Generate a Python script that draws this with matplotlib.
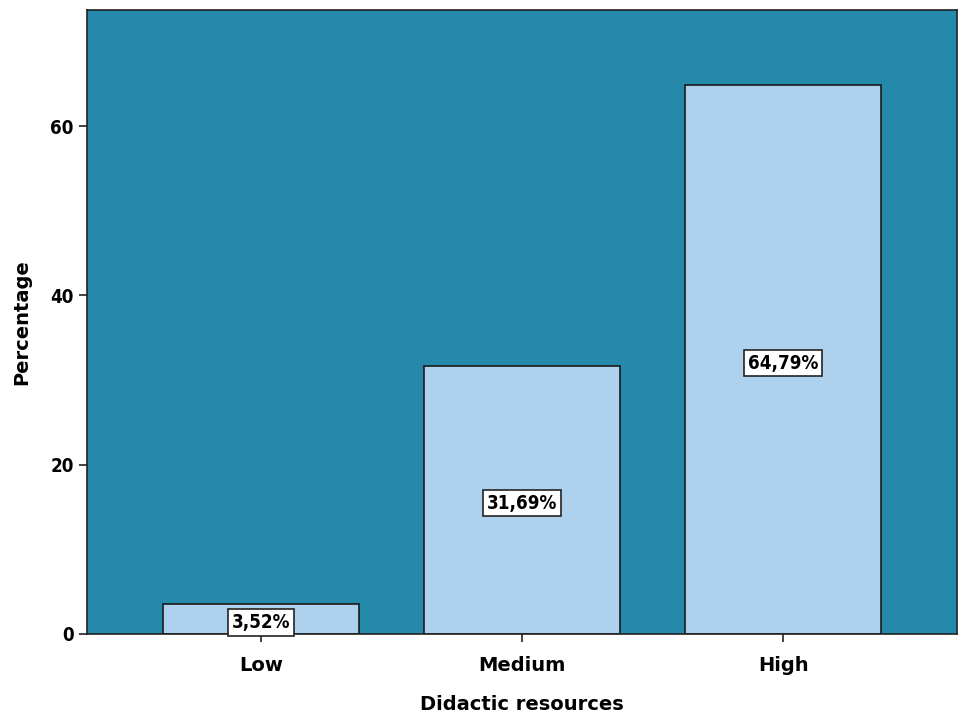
import matplotlib
matplotlib.use("Agg")
import matplotlib.pyplot as plt

# Didactic resources distribution
categories = ["Low", "Medium", "High"]
percentages = [3.52, 31.69, 64.79]
y_ticks = [0, 20, 40, 60]

# narrow bold face for the numbers
narrow = dict(family="DejaVu Sans", fontstretch="condensed")

fig = plt.figure(figsize=(9.59, 7.17), dpi=100)
ax = fig.add_axes([0.0907, 0.1158, 0.9073, 0.8702])
ax.set_facecolor("#2489AB")

x = range(len(categories))
bars = ax.bar(x, percentages, width=0.75, color="#AED1EE",
              edgecolor="#1a1a1a", linewidth=1.2)

for b, v in zip(bars, percentages):
    label = f"{v:.2f}%".replace(".", ",")
    ax.text(b.get_x() + b.get_width() / 2, v / 2 - 0.4, label,
            ha="center", va="center", fontsize=13.5, fontweight="bold",
            bbox=dict(boxstyle="square,pad=0.2", facecolor="white",
                      edgecolor="#222222", linewidth=1.2), **narrow)

ax.set_xlim(-0.665, 2.665)
ax.set_ylim(0, 73.7)
ax.set_xticks(list(x))
ax.set_xticklabels(categories, fontsize=14, fontweight="bold")
ax.set_yticks(y_ticks)
ax.set_yticklabels([str(t) for t in y_ticks], fontsize=13.5, fontweight="bold",
                   **narrow)
ax.tick_params(axis="both", direction="out", length=6, width=1.2, color="#222222")
ax.tick_params(axis="x", pad=10)

for s in ax.spines.values():
    s.set_color("#222222")
    s.set_linewidth(1.2)

ax.set_xlabel("Didactic resources", fontsize=14, fontweight="bold", labelpad=14)
ax.set_ylabel("Percentage", fontsize=14, fontweight="bold", labelpad=14)

fig.savefig("out.png", dpi=100)
